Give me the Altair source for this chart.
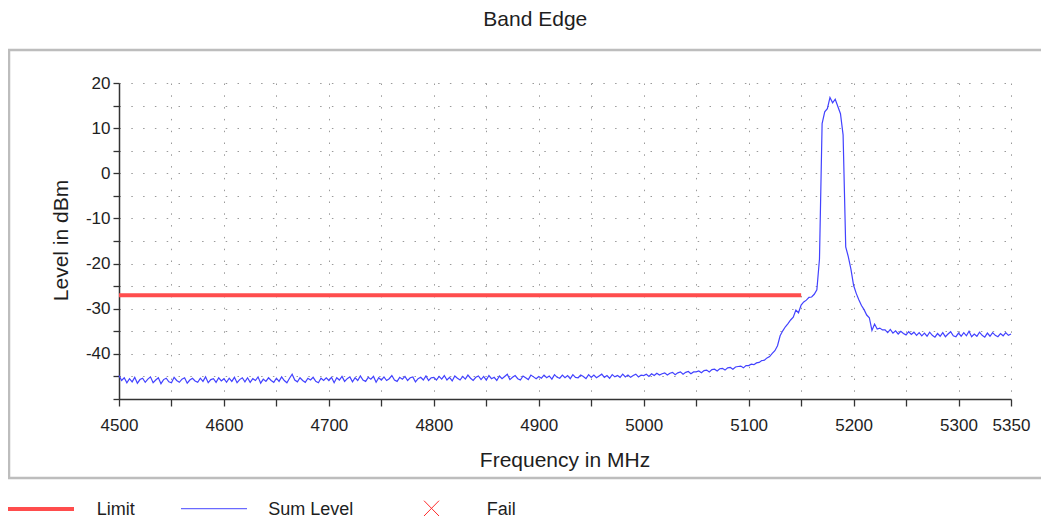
import altair as alt
import pandas as pd

# ---------------- data ----------------
START_MHZ = 4500.0
STEP_MHZ = 2.5          # sweep grid of the trace

SUM_LEVEL_DBM = [
    # 4500 - 4597.5
    -44.8, -45.9, -45.3, -46.4, -45.5, -46.2, -45.2, -46.5, -45.7, -45.4,
    -46.3, -45.6, -45.1, -46.4, -45.8, -45.3, -46.6, -45.7, -45.4, -46.2,
    -46.4, -45.2, -45.9, -46.3, -45.6, -45.3, -46.5, -45.8, -45.4, -46.0,
    -46.3, -45.4, -46.1, -45.1, -46.4, -45.7, -45.5, -46.3, -45.3, -46.0,
    # 4600 - 4697.5
    -45.5, -46.3, -45.4, -46.1, -45.2, -46.4, -45.7, -45.3, -46.2, -45.3,
    -46.3, -45.5, -45.9, -45.1, -46.5, -45.6, -46.1, -45.3, -45.9, -46.3,
    -45.4, -46.1, -45.1, -45.9, -46.4, -45.4, -44.5, -45.8, -46.2, -45.3,
    -45.9, -46.3, -45.4, -45.8, -45.2, -46.1, -46.4, -45.4, -45.9, -45.3,
    # 4700 - 4797.5
    -45.9, -45.2, -46.4, -45.3, -45.8, -45.0, -46.1, -45.5, -45.1, -46.2,
    -45.3, -45.9, -44.9, -45.8, -46.1, -45.2, -45.6, -45.0, -46.3, -45.3,
    -45.8, -45.1, -45.9, -45.5, -44.8, -45.8, -46.1, -45.2, -45.6, -45.0,
    -45.9, -45.3, -45.1, -46.2, -45.5, -45.2, -45.8, -44.9, -45.9, -45.3,
    # 4800 - 4897.5
    -45.2, -45.8, -45.0, -45.6, -44.8, -45.8, -45.2, -46.0, -44.9, -45.4,
    -45.8, -45.0, -45.6, -44.7, -45.4, -45.9, -45.2, -44.9, -45.7, -45.0,
    -45.8, -44.8, -45.5, -45.2, -45.9, -44.9, -45.5, -45.0, -44.5, -45.7,
    -45.2, -44.8, -45.5, -45.8, -44.9, -45.3, -45.7, -44.7, -45.1, -45.5,
    # 4900 - 4997.5
    -45.0, -45.4, -44.7, -45.3, -44.9, -45.6, -44.6, -45.2, -45.4, -44.7,
    -45.3, -44.8, -45.5, -44.6, -45.2, -45.3, -44.7, -45.0, -45.5, -44.6,
    -45.2, -44.7, -45.3, -44.9, -44.5, -45.2, -44.8, -45.4, -44.6, -45.1,
    -44.8, -45.2, -44.5, -45.1, -44.7, -45.2, -44.8, -44.5, -45.1, -44.7,
    # 5000 - 5047.5
    -44.8, -44.5, -45.0, -44.4, -44.8, -44.3, -44.7, -44.4, -44.2, -44.7,
    -44.3, -44.1, -44.6, -44.2, -44.0, -44.5, -44.1, -43.9, -44.4, -44.0,
    # 5050 - 5097.5
    -44.0, -43.8, -44.2, -43.7, -43.6, -44.0, -43.5, -43.4, -43.8, -43.3,
    -43.2, -43.6, -43.1, -43.0, -43.4, -42.9, -42.8, -42.7, -43.1, -42.6,
    # 5100 - 5147.5
    -42.6, -42.3, -42.4, -42.0, -41.9, -41.5, -41.4, -40.9, -40.6, -39.9,
    -39.3, -38.2, -36.0, -34.9, -34.0, -33.3, -32.5, -31.9, -30.3, -30.9,
    # 5150 - 5167.5
    -29.2, -28.5, -28.1, -27.5, -27.4, -26.8, -25.8, -19.0,
    # 5170 - 5190
    11.0, 13.6, 14.3, 16.8, 15.6, 16.4, 14.8, 13.2, 8.5,
    # 5192.5 - 5227.5
    -16.3, -18.5, -21.3, -24.8, -26.6, -28.0, -29.3, -30.2, -31.4, -32.0,
    -34.8, -33.4, -34.5, -34.3, -34.7,
    # 5230 - 5350
    -34.7, -35.3, -34.6, -35.4, -34.9, -35.6, -35.0, -35.5, -35.8, -35.1,
    -35.7, -35.2, -35.9, -35.3, -36.0, -35.4, -36.1, -35.2, -35.9, -36.3,
    -35.5, -36.1, -35.3, -36.2, -35.6, -35.1, -36.0, -36.2, -35.4, -36.1,
    -35.3, -36.0, -35.0, -36.2, -35.6, -36.1, -35.2, -35.9, -36.3, -35.4,
    -36.1, -35.3, -35.9, -36.2, -35.5, -36.0, -35.3, -35.9, -35.6,
]

LIMIT_MHZ = [4500, 5150]
LIMIT_DBM = [-27, -27]

X_TICKS = [4500, 4550, 4600, 4650, 4700, 4750, 4800, 4850, 4900, 4950,
           5000, 5050, 5100, 5150, 5200, 5250, 5300, 5350]
Y_TICKS = [-50, -45, -40, -35, -30, -25, -20, -15, -10, -5, 0, 5, 10, 15, 20]

TITLE = "Band Edge"
X_TITLE = "Frequency in MHz"
Y_TITLE = "Level in dBm"
LEGEND_LABELS = ["Limit", "Sum Level", "Fail"]

assert len(SUM_LEVEL_DBM) == 341, len(SUM_LEVEL_DBM)

trace_df = pd.DataFrame({
    "freq": [START_MHZ + STEP_MHZ * i for i in range(len(SUM_LEVEL_DBM))],
    "level": SUM_LEVEL_DBM,
})
limit_df = pd.DataFrame({"freq": LIMIT_MHZ, "level": LIMIT_DBM})
one = pd.DataFrame({"k": [1]})

FONT = "Liberation Sans"
TXT = "#1e1e1e"
RED = "#ff4d4d"
BLUE = "#4242ff"

x_enc = alt.X(
    "freq:Q",
    scale=alt.Scale(domain=[4500, 5350], nice=False, zero=False),
    axis=alt.Axis(
        values=X_TICKS,
        labelExpr="(datum.value % 100 === 0 || datum.value === 5350) ? ('' + datum.value) : ''",
        title=None, labelFlush=False, labelOverlap=False,
        tickSize=7, labelPadding=11,
    ),
)
y_enc = alt.Y(
    "level:Q",
    scale=alt.Scale(domain=[-50, 20], nice=False, zero=False),
    axis=alt.Axis(
        values=Y_TICKS,
        labelExpr="(datum.value % 10 === 0 && datum.value > -50) ? ('' + datum.value) : ''",
        title=None, labelOverlap=False,
        tickSize=6, labelPadding=3,
    ),
)

frame = alt.Chart(one).mark_rect(
    fillOpacity=0, stroke="#bdbdbd", strokeWidth=2.5
).encode(x=alt.value(-110), x2=alt.value(930), y=alt.value(-33), y2=alt.value(395))

limit = alt.Chart(limit_df).mark_line(color=RED, strokeWidth=4).encode(x=x_enc, y=y_enc)
trace = alt.Chart(trace_df).mark_line(color=BLUE, strokeWidth=1.2).encode(x=x_enc, y=y_enc)


def label(text, x, y, size, angle=0, align="center"):
    kw = dict(text=text, font=FONT, fontSize=size, color=TXT, align=align, baseline="alphabetic")
    if angle:
        kw["angle"] = angle
    return alt.Chart(one).mark_text(**kw).encode(x=alt.value(x), y=alt.value(y))


title = label(TITLE, 416.3, -57.3, 21)
xtitle = label(X_TITLE, 446, 384.3, 21)
ytitle = label(Y_TITLE, -50.7, 157.5, 21, angle=270)

leg_limit = alt.Chart(one).mark_rule(color=RED, strokeWidth=4).encode(
    x=alt.value(-111.7), x2=alt.value(-45), y=alt.value(426))
leg_sum = alt.Chart(one).mark_rule(color="#6a6aff", strokeWidth=1.3).encode(
    x=alt.value(62), x2=alt.value(128), y=alt.value(425.7))
leg_x1 = alt.Chart(one).mark_rule(color="#ff2a2a", strokeWidth=1).encode(
    x=alt.value(305), x2=alt.value(320), y=alt.value(417.7), y2=alt.value(433))
leg_x2 = alt.Chart(one).mark_rule(color="#ff2a2a", strokeWidth=1).encode(
    x=alt.value(305), x2=alt.value(320), y=alt.value(433), y2=alt.value(417.7))
leg_t1 = label(LEGEND_LABELS[0], -22.3, 432.2, 18, align="left")
leg_t2 = label(LEGEND_LABELS[1], 149.3, 432.2, 18, align="left")
leg_t3 = label(LEGEND_LABELS[2], 367.7, 432.2, 18, align="left")

chart = alt.layer(
    frame, limit, trace, title, xtitle, ytitle,
    leg_limit, leg_sum, leg_x1, leg_x2, leg_t1, leg_t2, leg_t3,
).properties(
    width=892, height=316,
    autosize=alt.AutoSizeParams(type="none"),
    padding={"left": 111, "top": 75, "right": 30, "bottom": 121},
).configure_view(
    strokeWidth=0
).configure_axis(
    labelFont=FONT, labelFontSize=17, labelColor=TXT,
    domainColor="#333333", domainWidth=1.5,
    tickColor="#333333", tickWidth=1.3,
    grid=True, gridColor="#9a9a9a", gridDash=[1.5, 10.3], gridWidth=1,
)

chart.save("out.html", embed_options={"renderer": "svg", "actions": False})
